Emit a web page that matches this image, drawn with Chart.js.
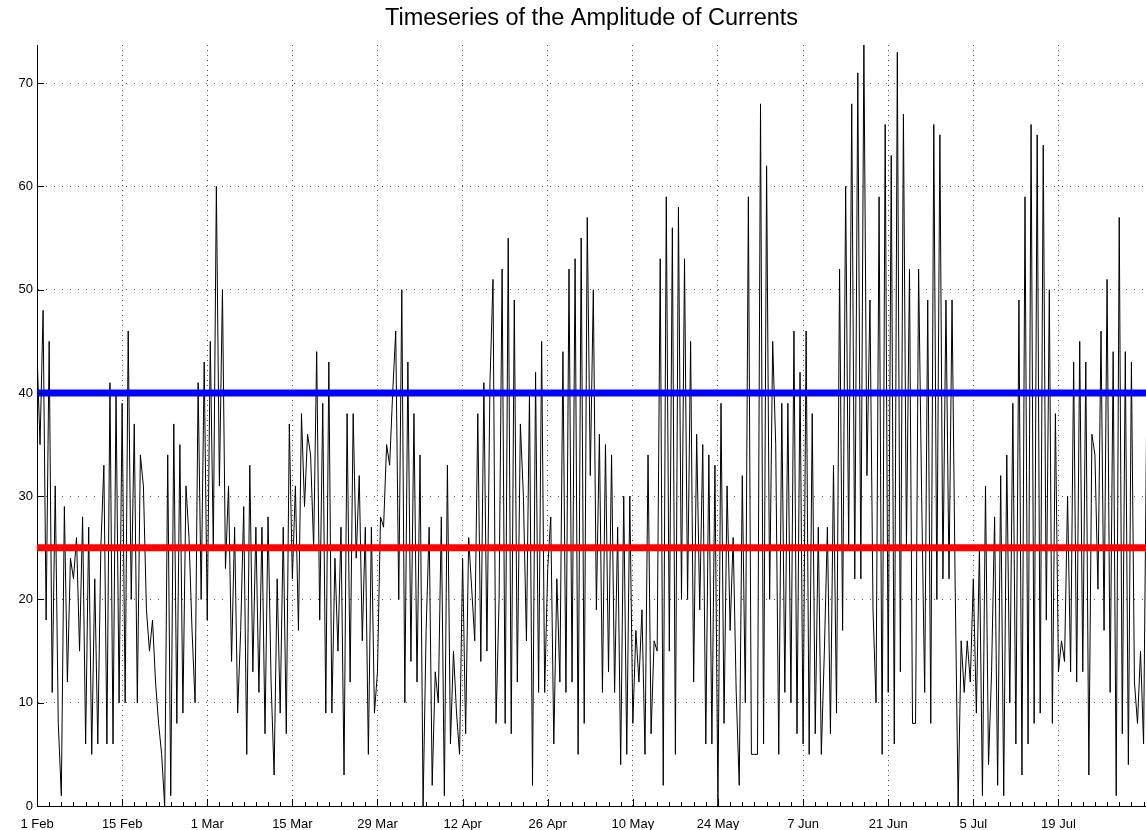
<!DOCTYPE html>
<html>
<head>
<meta charset="utf-8">
<title>Timeseries of the Amplitude of Currents</title>
<script src="https://cdn.jsdelivr.net/npm/chart.js@4.4.1/dist/chart.umd.min.js"></script>
<style>
    html, body { margin: 0; padding: 0; background: #fff; overflow: hidden; }
    canvas { display: block; }
</style>
</head>
<body>
<canvas id="myChart" width="1146" height="834"></canvas>
<script>
// amplitude, one value every 12 hours starting 1 Feb
const amplitude = [
    44, 35, 48, 18, 45, 11, 31, 8, 1, 29, 12, 24, 22, 26, 15, 28, 6, 27, 5, 22,
    6, 25, 33, 6, 41, 6, 40, 10, 39, 10, 46, 20, 37, 10, 34, 31, 19, 15, 18, 12,
    8, 5, 0, 34, 1, 37, 8, 35, 9, 31, 26, 17, 10, 41, 20, 43, 18, 45, 25, 60,
    31, 50, 23, 31, 14, 27, 9, 17, 29, 5, 33, 13, 27, 11, 27, 7, 28, 12, 3, 22,
    9, 27, 7, 37, 22, 31, 17, 38, 29, 36, 34, 25, 44, 18, 39, 9, 43, 9, 24, 15,
    27, 3, 38, 12, 38, 24, 32, 16, 27, 5, 27, 9, 13, 28, 27, 35, 33, 40, 46, 20,
    50, 10, 43, 14, 38, 12, 34, 0, 17, 27, 2, 13, 10, 28, 1, 33, 6, 15, 9, 5,
    24, 7, 26, 21, 16, 38, 14, 41, 15, 41, 51, 8, 20, 52, 8, 55, 7, 49, 12, 37,
    30, 16, 40, 2, 42, 11, 45, 11, 23, 28, 6, 22, 12, 44, 11, 52, 12, 53, 5, 55,
    8, 57, 32, 50, 19, 36, 11, 35, 13, 34, 11, 27, 4, 30, 5, 30, 8, 17, 12, 19,
    5, 34, 7, 16, 15, 53, 2, 59, 15, 56, 5, 58, 20, 53, 20, 45, 12, 36, 19, 35,
    6, 34, 6, 33, 0, 39, 8, 31, 17, 26, 11, 2, 32, 10, 59, 5, 5, 5, 68, 6,
    62, 20, 45, 35, 5, 39, 11, 39, 10, 46, 7, 42, 6, 46, 5, 38, 7, 27, 5, 15,
    27, 7, 33, 9, 52, 17, 60, 25, 68, 22, 71, 22, 74, 32, 49, 19, 10, 59, 5, 66,
    11, 63, 6, 73, 13, 67, 25, 52, 8, 8, 52, 30, 11, 49, 8, 66, 20, 65, 22, 49,
    22, 49, 22, 0, 16, 11, 16, 12, 22, 9, 25, 1, 31, 4, 13, 28, 2, 32, 1, 34,
    10, 39, 6, 49, 3, 59, 6, 66, 8, 65, 9, 64, 18, 50, 8, 38, 13, 16, 14, 30,
    13, 43, 12, 45, 13, 43, 3, 36, 34, 21, 46, 17, 51, 11, 44, 1, 57, 7, 44, 4,
    43, 12, 8, 15, 6, 37
];
const sampleStepDays = 0.5;

const tickLabels = ['1 Feb', '15 Feb', '1 Mar', '15 Mar', '29 Mar', '12 Apr', '26 Apr',
    '10 May', '24 May', '7 Jun', '21 Jun', '5 Jul', '19 Jul'];
const tickDays = [0, 14, 28, 42, 56, 70, 84, 98, 112, 126, 140, 154, 168];
const yTicks = [0, 10, 20, 30, 40, 50, 60, 70];

const upperLimit = 40;
const lowerLimit = 25;

const lastDay = 182.4;
const topValue = 73.7;

Chart.defaults.font.family = '"Liberation Sans", Arial, Helvetica, sans-serif';
Chart.defaults.color = '#000';

const points = amplitude.map((v, i) => ({ x: i * sampleStepDays, y: v }));

// matlab style ticks pointing into the axes
const insideTicks = {
    id: 'insideTicks',
    afterDatasetsDraw(chart) {
        const { ctx, chartArea, scales: { x, y } } = chart;
        ctx.save();
        ctx.strokeStyle = '#000';
        ctx.lineWidth = 1;
        ctx.beginPath();
        for (let d = 2; d < lastDay; d += 2) {
            const len = tickDays.includes(d) ? 7 : 4;
            const px = Math.round(x.getPixelForValue(d)) + 0.5;
            ctx.moveTo(px, chartArea.bottom);
            ctx.lineTo(px, chartArea.bottom - len);
        }
        yTicks.forEach(v => {
            const py = Math.round(y.getPixelForValue(v)) + 0.5;
            ctx.moveTo(chartArea.left, py);
            ctx.lineTo(chartArea.left + 7, py);
        });
        ctx.stroke();
        ctx.restore();
    }
};

const ctx = document.getElementById('myChart').getContext('2d');
const chart = new Chart(ctx, {
    type: 'line',
    data: {
        datasets: [
            {
                label: 'Upper',
                data: [{ x: 0, y: upperLimit }, { x: lastDay, y: upperLimit }],
                borderColor: '#0000ff',
                borderWidth: 7,
                pointRadius: 0,
                order: 0
            },
            {
                label: 'Lower',
                data: [{ x: 0, y: lowerLimit }, { x: lastDay, y: lowerLimit }],
                borderColor: '#ff0000',
                borderWidth: 7,
                pointRadius: 0,
                order: 0
            },
            {
                label: 'Amplitude',
                data: points,
                borderColor: '#000000',
                borderWidth: 1,
                pointRadius: 0,
                tension: 0,
                order: 1
            }
        ]
    },
    options: {
        responsive: false,
        animation: false,
        layout: { padding: 0 },
        scales: {
            x: {
                type: 'linear',
                min: 0,
                max: lastDay,
                afterBuildTicks: axis => { axis.ticks = tickDays.map(d => ({ value: d })); },
                afterFit: scale => { scale.height = 28; },
                ticks: {
                    autoSkip: false,
                    maxRotation: 0,
                    padding: 11,
                    font: { size: 13 },
                    callback: value => tickLabels[tickDays.indexOf(value)]
                },
                grid: { color: '#555', lineWidth: 1, drawTicks: false },
                border: { color: '#000', width: 1, dash: [1, 4] }
            },
            y: {
                min: 0,
                max: topValue,
                afterBuildTicks: axis => { axis.ticks = yTicks.map(v => ({ value: v })); },
                afterFit: scale => { scale.width = 37; },
                ticks: { padding: 4, font: { size: 13 } },
                grid: { color: '#555', lineWidth: 1, drawTicks: false },
                border: { color: '#000', width: 1, dash: [1, 7] }
            }
        },
        plugins: {
            legend: { display: false },
            tooltip: { enabled: false },
            title: {
                display: true,
                text: 'Timeseries of the Amplitude of Currents',
                fullSize: false,
                color: '#000',
                font: { size: 23.5, weight: 'normal' },
                padding: { top: 4, bottom: 12.8 }
            }
        }
    },
    plugins: [insideTicks]
});
</script>
</body>
</html>
